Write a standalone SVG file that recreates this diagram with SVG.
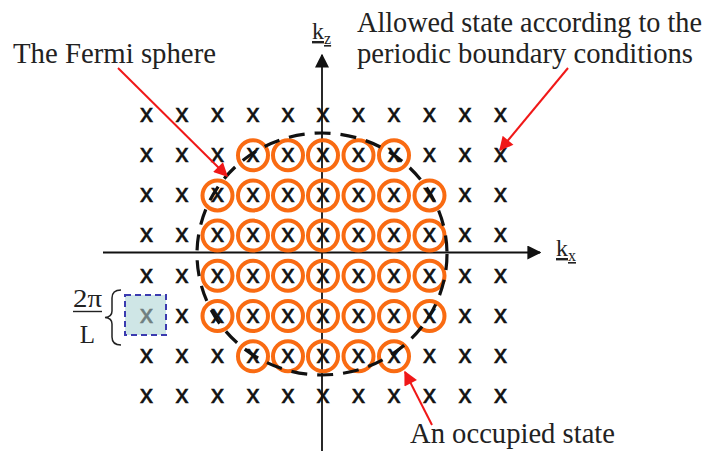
<svg xmlns="http://www.w3.org/2000/svg" width="710" height="453" viewBox="0 0 710 453">
<defs>
<style>
.x{font-family:"Liberation Sans",Arial,sans-serif;font-size:26px;fill:#111;stroke:#111;stroke-width:0.6;text-anchor:middle}
.occ{fill:none;stroke:#f96b12;stroke-width:4}
.lbl{font-family:"Liberation Serif","Times New Roman",serif;font-size:29px;fill:#222}
.ax{stroke:#111;stroke-width:1.8;fill:none}
.red{stroke:#f01818;stroke-width:2;fill:none}
.math{font-family:"Liberation Serif","Times New Roman",serif;fill:#222}
</style>
<marker id="ah" viewBox="0 0 10 10" refX="9" refY="5" markerWidth="14" markerHeight="14" markerUnits="userSpaceOnUse" orient="auto"><path d="M0,0 L10,5 L0,10 z" fill="#111"/></marker>
<marker id="rh" viewBox="0 0 10 10" refX="9" refY="5" markerWidth="18" markerHeight="14" markerUnits="userSpaceOnUse" orient="auto"><path d="M0,0 L10,5 L0,10 z" fill="#f01818"/></marker>
</defs>
<rect width="710" height="453" fill="#fff"/>

<g id="cell-box">
<rect x="125" y="295" width="41" height="40" fill="#cfe6e6" stroke="#3b3bb0" stroke-width="2" stroke-dasharray="6 4"/>
</g>

<g id="axes" class="connectors">
<line class="ax" x1="103" y1="252.5" x2="540" y2="252.5" marker-end="url(#ah)"/>
<line class="ax" x1="322" y1="451" x2="322" y2="55" marker-end="url(#ah)"/>
</g>

<g id="allowed-states">
<text class="x" x="146.5" y="121.8">x</text><text class="x" x="182" y="121.8">x</text><text class="x" x="217.5" y="121.8">x</text><text class="x" x="253" y="121.8">x</text><text class="x" x="288" y="121.8">x</text><text class="x" x="323" y="121.8">x</text><text class="x" x="358.5" y="121.8">x</text><text class="x" x="394" y="121.8">x</text><text class="x" x="429.5" y="121.8">x</text><text class="x" x="465" y="121.8">x</text><text class="x" x="500.5" y="121.8">x</text>
<text class="x" x="146.5" y="162">x</text><text class="x" x="182" y="162">x</text><text class="x" x="217.5" y="162">x</text><text class="x" x="253" y="162">x</text><text class="x" x="288" y="162">x</text><text class="x" x="323" y="162">x</text><text class="x" x="358.5" y="162">x</text><text class="x" x="394" y="162">x</text><text class="x" x="429.5" y="162">x</text><text class="x" x="465" y="162">x</text><text class="x" x="500.5" y="162">x</text>
<text class="x" x="146.5" y="202.2">x</text><text class="x" x="182" y="202.2">x</text><text class="x" x="217.5" y="202.2">x</text><text class="x" x="253" y="202.2">x</text><text class="x" x="288" y="202.2">x</text><text class="x" x="323" y="202.2">x</text><text class="x" x="358.5" y="202.2">x</text><text class="x" x="394" y="202.2">x</text><text class="x" x="429.5" y="202.2">x</text><text class="x" x="465" y="202.2">x</text><text class="x" x="500.5" y="202.2">x</text>
<text class="x" x="146.5" y="242.4">x</text><text class="x" x="182" y="242.4">x</text><text class="x" x="217.5" y="242.4">x</text><text class="x" x="253" y="242.4">x</text><text class="x" x="288" y="242.4">x</text><text class="x" x="323" y="242.4">x</text><text class="x" x="358.5" y="242.4">x</text><text class="x" x="394" y="242.4">x</text><text class="x" x="429.5" y="242.4">x</text><text class="x" x="465" y="242.4">x</text><text class="x" x="500.5" y="242.4">x</text>
<text class="x" x="146.5" y="282.6">x</text><text class="x" x="182" y="282.6">x</text><text class="x" x="217.5" y="282.6">x</text><text class="x" x="253" y="282.6">x</text><text class="x" x="288" y="282.6">x</text><text class="x" x="323" y="282.6">x</text><text class="x" x="358.5" y="282.6">x</text><text class="x" x="394" y="282.6">x</text><text class="x" x="429.5" y="282.6">x</text><text class="x" x="465" y="282.6">x</text><text class="x" x="500.5" y="282.6">x</text>
<text class="x" x="146.5" y="322.8" style="fill:#6f7f80;stroke:#6f7f80">x</text><text class="x" x="182" y="322.8">x</text><text class="x" x="217.5" y="322.8">x</text><text class="x" x="253" y="322.8">x</text><text class="x" x="288" y="322.8">x</text><text class="x" x="323" y="322.8">x</text><text class="x" x="358.5" y="322.8">x</text><text class="x" x="394" y="322.8">x</text><text class="x" x="429.5" y="322.8">x</text><text class="x" x="465" y="322.8">x</text><text class="x" x="500.5" y="322.8">x</text>
<text class="x" x="146.5" y="363">x</text><text class="x" x="182" y="363">x</text><text class="x" x="217.5" y="363">x</text><text class="x" x="253" y="363">x</text><text class="x" x="288" y="363">x</text><text class="x" x="323" y="363">x</text><text class="x" x="358.5" y="363">x</text><text class="x" x="394" y="363">x</text><text class="x" x="429.5" y="363">x</text><text class="x" x="465" y="363">x</text><text class="x" x="500.5" y="363">x</text>
<text class="x" x="146.5" y="403.2">x</text><text class="x" x="182" y="403.2">x</text><text class="x" x="217.5" y="403.2">x</text><text class="x" x="253" y="403.2">x</text><text class="x" x="288" y="403.2">x</text><text class="x" x="323" y="403.2">x</text><text class="x" x="358.5" y="403.2">x</text><text class="x" x="394" y="403.2">x</text><text class="x" x="429.5" y="403.2">x</text><text class="x" x="465" y="403.2">x</text><text class="x" x="500.5" y="403.2">x</text>
</g>

<g id="occupied-states">
<circle class="occ" cx="253" cy="155.2" r="15"/><circle class="occ" cx="288" cy="155.2" r="15"/><circle class="occ" cx="323" cy="155.2" r="15"/><circle class="occ" cx="358.5" cy="155.2" r="15"/><circle class="occ" cx="394" cy="155.2" r="15"/>
<circle class="occ" cx="217.5" cy="195.4" r="15"/><circle class="occ" cx="253" cy="195.4" r="15"/><circle class="occ" cx="288" cy="195.4" r="15"/><circle class="occ" cx="323" cy="195.4" r="15"/><circle class="occ" cx="358.5" cy="195.4" r="15"/><circle class="occ" cx="394" cy="195.4" r="15"/><circle class="occ" cx="429.5" cy="195.4" r="15"/>
<circle class="occ" cx="217.5" cy="235.6" r="15"/><circle class="occ" cx="253" cy="235.6" r="15"/><circle class="occ" cx="288" cy="235.6" r="15"/><circle class="occ" cx="323" cy="235.6" r="15"/><circle class="occ" cx="358.5" cy="235.6" r="15"/><circle class="occ" cx="394" cy="235.6" r="15"/><circle class="occ" cx="429.5" cy="235.6" r="15"/>
<circle class="occ" cx="217.5" cy="275.8" r="15"/><circle class="occ" cx="253" cy="275.8" r="15"/><circle class="occ" cx="288" cy="275.8" r="15"/><circle class="occ" cx="323" cy="275.8" r="15"/><circle class="occ" cx="358.5" cy="275.8" r="15"/><circle class="occ" cx="394" cy="275.8" r="15"/><circle class="occ" cx="429.5" cy="275.8" r="15"/>
<circle class="occ" cx="217.5" cy="316" r="15"/><circle class="occ" cx="253" cy="316" r="15"/><circle class="occ" cx="288" cy="316" r="15"/><circle class="occ" cx="323" cy="316" r="15"/><circle class="occ" cx="358.5" cy="316" r="15"/><circle class="occ" cx="394" cy="316" r="15"/><circle class="occ" cx="429.5" cy="316" r="15"/>
<circle class="occ" cx="253" cy="356.2" r="15"/><circle class="occ" cx="288" cy="356.2" r="15"/><circle class="occ" cx="323" cy="356.2" r="15"/><circle class="occ" cx="358.5" cy="356.2" r="15"/><circle class="occ" cx="394" cy="356.2" r="15"/>
</g>

<g id="fermi-sphere">
<ellipse cx="322" cy="254" rx="125" ry="121" fill="none" stroke="#111" stroke-width="3.2" stroke-dasharray="16 10"/>
</g>

<g id="label-kz">
<text class="math" x="312" y="39" style="font-size:24px;text-decoration:underline">k<tspan dy="5" font-size="16">z</tspan></text>
</g>
<g id="label-kx">
<text class="math" x="556" y="256" style="font-size:24px;text-decoration:underline">k<tspan dy="5" font-size="16">x</tspan></text>
</g>

<g id="label-fermi">
<text class="lbl" x="13" y="63" textLength="203" lengthAdjust="spacingAndGlyphs">The Fermi sphere</text>
</g>
<g id="label-allowed">
<text class="lbl" x="357" y="32" textLength="345" lengthAdjust="spacingAndGlyphs">Allowed state according to the</text>
<text class="lbl" x="357" y="63" textLength="336" lengthAdjust="spacingAndGlyphs">periodic boundary conditions</text>
</g>
<g id="label-occupied">
<text class="lbl" x="410" y="443" textLength="205" lengthAdjust="spacingAndGlyphs">An occupied state</text>
</g>

<g id="label-2pi-L">
<text class="math" x="73" y="307" textLength="29" lengthAdjust="spacingAndGlyphs" style="font-size:25px">2π</text>
<line x1="73" y1="311.5" x2="102" y2="311.5" stroke="#222" stroke-width="1.4"/>
<text class="math" x="87.5" y="343" text-anchor="middle" style="font-size:25px">L</text>
<path d="M121,290 Q112,290 112,298 L112,311 Q112,317 105,317.5 Q112,318 112,324 L112,337 Q112,345 121,345" fill="none" stroke="#222" stroke-width="1.5"/>
</g>

<g id="pointers" class="connectors">
<line class="red" x1="118" y1="68" x2="227" y2="176" marker-end="url(#rh)"/>
<line class="red" x1="568" y1="68" x2="500" y2="150" marker-end="url(#rh)"/>
<line class="red" x1="432" y1="425" x2="405" y2="372" marker-end="url(#rh)"/>
</g>
</svg>
